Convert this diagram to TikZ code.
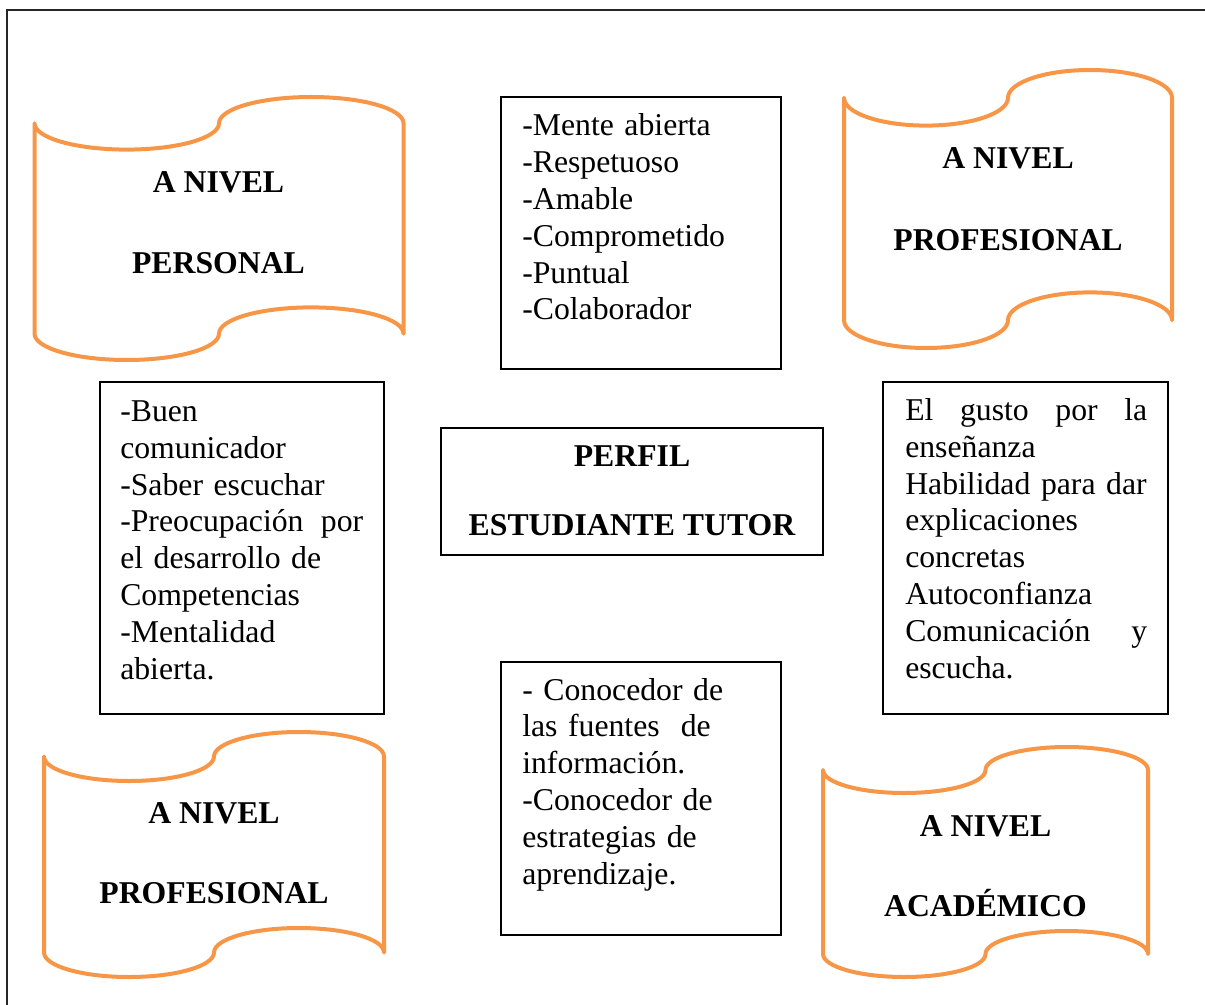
\documentclass[tikz,border=0pt]{standalone}
\usepackage{fontspec}
\setmainfont{Liberation Serif}
\definecolor{scrollorange}{RGB}{247,150,70}
\tikzset{
  scroll/.style={draw=scrollorange, line width=3pt, line join=round, line cap=round},
  txtbox/.style={draw=black, line width=0.9pt},
  body/.style={anchor=base west, inner sep=0pt, align=left, font=\fontsize{23.8}{27.6}\selectfont},
  title/.style={anchor=base, inner sep=0pt, font=\fontsize{23.8}{27.6}\selectfont\bfseries},
}
\newcommand{\fullline}[1]{\leavevmode\hbox to\linewidth{#1}}

\begin{document}
\begin{tikzpicture}[x=0.75pt,y=0.75pt,yscale=-1,xscale=1]
\useasboundingbox (0,0) rectangle (1205,1005);

%Frame
\draw [line width=1.1pt, draw=black!85]  (7,1005) -- (7,10) -- (1205,10) ;

%Shape: Wave [top left]
\draw [scroll] (34.5,123.3) arc[start angle=180,end angle=0,x radius=92.25,y radius=26.3] arc[start angle=180,end angle=360,x radius=92.25,y radius=26.3] -- (403.5,333.7) arc[start angle=0,end angle=-180,x radius=92.25,y radius=26.3] arc[start angle=0,end angle=180,x radius=92.25,y radius=26.3] -- cycle ;
%Shape: Wave [top right]
\draw [scroll] (844,97.8) arc[start angle=180,end angle=0,x radius=82,y radius=27.8] arc[start angle=180,end angle=360,x radius=82,y radius=27.8] -- (1172,320.2) arc[start angle=0,end angle=-180,x radius=82,y radius=27.8] arc[start angle=0,end angle=180,x radius=82,y radius=27.8] -- cycle ;
%Shape: Wave [bottom left]
\draw [scroll] (44,756.5) arc[start angle=180,end angle=0,x radius=85,y radius=24.5] arc[start angle=180,end angle=360,x radius=85,y radius=24.5] -- (384,952.5) arc[start angle=0,end angle=-180,x radius=85,y radius=24.5] arc[start angle=0,end angle=180,x radius=85,y radius=24.5] -- cycle ;
%Shape: Wave [bottom right]
\draw [scroll] (823,770) arc[start angle=180,end angle=0,x radius=81.25,y radius=23] arc[start angle=180,end angle=360,x radius=81.25,y radius=23] -- (1148,954) arc[start angle=0,end angle=-180,x radius=81.25,y radius=23] arc[start angle=0,end angle=180,x radius=81.25,y radius=23] -- cycle ;

%Shape: Rectangle
\draw [txtbox] (501,97) rectangle (781,369) ;
%Shape: Rectangle
\draw [txtbox] (100,382) rectangle (384,714) ;
%Shape: Rectangle
\draw [txtbox] (883,382) rectangle (1168,714) ;
%Shape: Rectangle
\draw [txtbox] (441,428) rectangle (823,555) ;
%Shape: Rectangle
\draw [txtbox] (501,662) rectangle (781,935) ;

% Text Node
\draw (218.5,192.5) node [title] (nivelA) {A NIVEL};
% Text Node
\draw (218.5,273.5) node [title] (personal) {PERSONAL};
% Text Node
\draw (1008,168.5) node [title] (nivelB) {A NIVEL};
% Text Node
\draw (1008,250.5) node [title] (profesionalA) {PROFESIONAL};
% Text Node
\draw (214,823.5) node [title] (nivelC) {A NIVEL};
% Text Node
\draw (214,903.5) node [title] (profesionalB) {PROFESIONAL};
% Text Node
\draw (985.5,836.5) node [title] (nivelD) {A NIVEL};
% Text Node
\draw (985.5,916.5) node [title] (academico) {ACADÉMICO};
% Text Node
\draw (632,466.5) node [title] (perfil) {PERFIL};
% Text Node
\draw (632,535.5) node [title] (tutor) {ESTUDIANTE TUTOR};

% Text Node
\draw (522,136) node [body, text width=190pt] (actitudes) {-Mente abierta\\-Respetuoso\\-Amable\\-Comprometido\\-Puntual\\-Colaborador};
% Text Node
\draw (120,421.5) node [body, text width=182.25pt] (personales) {-Buen\\comunicador\\-Saber escuchar\\\fullline{-Preocupación\hfill por}\\el desarrollo de\\Competencias\\-Mentalidad\\abierta.};
% Text Node
\draw (905,420.5) node [body, text width=181.5pt] (profesionales) {\fullline{El\hfill gusto\hfill por\hfill la}\\enseñanza\\Habilidad para dar\\explicaciones\\concretas\\Autoconfianza\\\fullline{Comunicación\hfill y}\\escucha.};
% Text Node
\draw (522,700) node [body, text width=190pt] (academicas) {- Conocedor de\\las fuentes~ de\\información.\\-Conocedor de\\estrategias de\\aprendizaje.};

\end{tikzpicture}
\end{document}
